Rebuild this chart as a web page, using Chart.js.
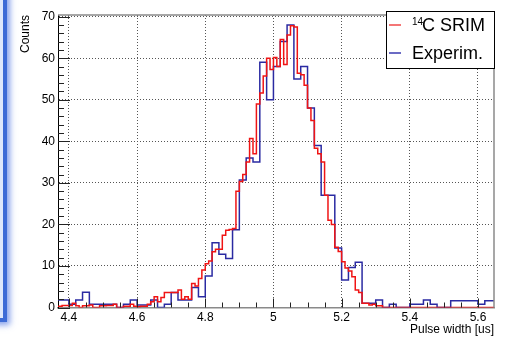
<!DOCTYPE html>
<html>
<head>
<meta charset="utf-8">
<script src="https://cdn.jsdelivr.net/npm/chart.js@4"></script>
<style>
    html, body { margin: 0; padding: 0; background: #fff; }
    #wrap { position: relative; width: 516px; height: 340px; overflow: hidden; }
    #panel {
        position: absolute; left: -20px; top: -20px; width: 27px; height: 342px;
        box-sizing: border-box; border: 4px solid #3d6bd6; background: #dfe8fb;
        box-shadow: 3px 3px 6px rgba(70, 110, 225, 0.65);
    }
    canvas { position: absolute; left: 0; top: 0; }
</style>
</head>
<body>
<div id="wrap">
    <div id="panel"></div>
    <canvas id="pulseChart" width="516" height="340"></canvas>
</div>
<script>
// axis ranges and tick labels
const xMin = 4.368;
const xMax = 5.647;
const yMin = 0;
const yMax = 70.4;
const xTicks = [4.4, 4.6, 4.8, 5.0, 5.2, 5.4, 5.6];
const xTickLabels = ['4.4', '4.6', '4.8', '5', '5.2', '5.4', '5.6'];
const yTicks = [0, 10, 20, 30, 40, 50, 60, 70];
const yTickLabels = ['0', '10', '20', '30', '40', '50', '60', '70'];

// 14C SRIM simulation, bins of 0.01 starting at 4.36
const srimStart = 4.36;
const srimBinWidth = 0.01;
const srimCounts = [
    0.3, 0.3, 0.5, 0.5, 0.5, 1.0, 0.4, 0, 0.4, 0.4,
    0.6, 0, 0, 0.4, 0.4, 0.5, 0.5, 0.8, 0, 0,
    0.3, 0.3, 0.8, 0.3, 0.2, 0.3, 0.3, 0.8, 1.4, 2.6,
    1.4, 2.4, 3.6, 3.6, 3.6, 3.6, 4.2, 2.0, 2.6, 2.0,
    5.8, 5.2, 7.0, 9.0, 10.5, 11.2, 13.4, 14, 14, 17.4,
    18.6, 18.8, 19, 28, 30.3, 32, 35, 40.7, 37, 49,
    51.6, 55.7, 60, 57.3, 60.2, 58, 64.5, 58.5, 65.6, 67.8,
    67.5, 56.4, 56, 53.5, 48, 45, 38.3, 37, 35, 27,
    21, 20, 14.5, 13.5, 11, 9.5, 8.8, 7.4, 4.2, 3.6,
    1, 1, 0.6, 0.8, 0.4, 0.4, 0, 0, 0, 0,
    0, 0, 0, 0, 0, 0, 0, 0, 0, 0,
    0, 0, 0, 0, 0, 0, 0, 0, 0, 0,
    0, 0, 0, 0, 0, 0, 0, 0, 0, 0
];

// experimental data, bins of 0.02 starting at 4.36
const expStart = 4.36;
const expBinWidth = 0.02;
const expCounts = [
    1.8, 1.8, 0.8, 1.8, 3.7, 0.8, 0.8, 0.8, 0.8, 0,
    0.8, 1.8, 0.6, 0.6, 1.8, 0, 0.8, 3.6, 1.8, 1.8,
    4.8, 2.6, 7.6, 15.6, 12.8, 11.8, 18.7, 30.7, 36, 35,
    59, 50, 58, 64, 68, 55, 58, 48, 39, 27,
    27, 14.3, 6.6, 9.6, 10.9, 1, 1, 1.8, 0, 0.8,
    0, 0, 0.8, 0.8, 1.8, 0.8, 0, 0, 1.6, 1.6,
    1.6, 1.6, 0.8, 1.6, 1.6
];

const seriesColors = ['#f01414', '#2a2aa2'];
const legendColors = ['#f04848', '#3a3ab0'];

// turn bin contents into step points (lower edges + closing upper edge)
function histPoints(start, width, counts) {
    const pts = counts.map((c, i) => ({ x: +(start + i * width).toFixed(3), y: c }));
    pts.push({ x: +(start + counts.length * width).toFixed(3), y: counts[counts.length - 1] });
    return pts;
}

const axisFont = { family: '"Liberation Sans", Arial, Helvetica, sans-serif', size: 12 };

// ROOT style ticks pointing into the frame, plus the frame itself
const rootFrame = {
    id: 'rootFrame',
    afterDatasetsDraw(chart) {
        const { ctx, chartArea: a, scales: { x, y } } = chart;
        ctx.save();
        ctx.strokeStyle = '#8a8a8a';
        ctx.lineWidth = 1.5;
        ctx.beginPath();
        ctx.moveTo(a.left, a.top);
        ctx.lineTo(a.right, a.top);
        ctx.lineTo(a.right, a.bottom);
        ctx.stroke();

        ctx.strokeStyle = '#222';
        ctx.lineWidth = 1;
        ctx.beginPath();
        for (let k = -1; k <= 26; k++) {
            const v = 4.4 + k * 0.05;
            if (v < xMin || v > xMax) continue;
            const px = Math.round(x.getPixelForValue(v)) + 0.5;
            const len = k % 4 === 0 ? 9 : 5;
            ctx.moveTo(px, a.bottom);
            ctx.lineTo(px, a.bottom - len);
        }
        for (let v = 0; v <= yMax; v += 2) {
            const py = Math.round(y.getPixelForValue(v)) + 0.5;
            const len = v % 10 === 0 ? 12 : 6;
            ctx.moveTo(a.left, py);
            ctx.lineTo(a.left + len, py);
        }
        ctx.stroke();
        ctx.restore();
    }
};

// legend box with the superscript in 14C
const rootLegend = {
    id: 'rootLegend',
    afterDraw(chart) {
        const { ctx } = chart;
        const bx = 386, by = 11, bw = 108, bh = 57;
        ctx.save();
        ctx.fillStyle = '#fff';
        ctx.fillRect(bx, by, bw, bh);
        ctx.strokeStyle = '#000';
        ctx.lineWidth = 1;
        ctx.strokeRect(bx + 0.5, by + 0.5, bw, bh);

        const rows = [25, 53];
        rows.forEach((ry, i) => {
            ctx.strokeStyle = legendColors[i];
            ctx.lineWidth = 1.5;
            ctx.beginPath();
            ctx.moveTo(389, ry);
            ctx.lineTo(401, ry);
            ctx.stroke();
        });

        ctx.fillStyle = '#000';
        ctx.textBaseline = 'alphabetic';
        ctx.font = '10px "Liberation Sans", Arial, sans-serif';
        ctx.fillText('14', 412, 25);
        ctx.font = '18px "Liberation Sans", Arial, sans-serif';
        ctx.fillText('C SRIM', 422, 31);
        ctx.fillText('Experim.', 412, 58.5);
        ctx.restore();
    }
};

const ctx = document.getElementById('pulseChart').getContext('2d');
new Chart(ctx, {
    type: 'line',
    data: {
        datasets: [
            {
                label: '14C SRIM',
                data: histPoints(srimStart, srimBinWidth, srimCounts),
                borderColor: seriesColors[0],
                borderWidth: 1.5,
                stepped: true,
                pointRadius: 0,
                fill: false
            },
            {
                label: 'Experim.',
                data: histPoints(expStart, expBinWidth, expCounts),
                borderColor: seriesColors[1],
                borderWidth: 1.5,
                stepped: true,
                pointRadius: 0,
                fill: false
            }
        ]
    },
    options: {
        responsive: false,
        animation: false,
        layout: { padding: { left: 0, right: 22, top: 15, bottom: 0 } },
        plugins: {
            legend: { display: false },
            tooltip: { enabled: false }
        },
        scales: {
            x: {
                type: 'linear',
                min: xMin,
                max: xMax,
                afterBuildTicks: scale => { scale.ticks = xTicks.map(v => ({ value: v })); },
                afterFit: scale => { scale.height = 32.5; },
                ticks: {
                    callback: (v, i) => xTickLabels[i],
                    font: axisFont,
                    color: '#000',
                    padding: 3,
                    maxRotation: 0,
                    autoSkip: false
                },
                grid: { color: '#555', lineWidth: 1, drawTicks: false },
                border: { display: true, color: '#8a8a8a', width: 1.5, dash: [1, 2] },
                title: {
                    display: true,
                    text: 'Pulse width [us]',
                    align: 'end',
                    color: '#000',
                    font: axisFont,
                    padding: { top: 0, bottom: 3 }
                }
            },
            y: {
                min: yMin,
                max: yMax,
                afterBuildTicks: scale => { scale.ticks = yTicks.map(v => ({ value: v })); },
                afterFit: scale => { scale.width = 58; },
                ticks: {
                    callback: (v, i) => yTickLabels[i],
                    font: axisFont,
                    color: '#000',
                    padding: 3
                },
                grid: { color: '#555', lineWidth: 1, drawTicks: false },
                border: { display: true, color: '#000', width: 1, dash: [1, 2] },
                title: {
                    display: true,
                    text: 'Counts',
                    align: 'end',
                    color: '#000',
                    font: axisFont,
                    padding: { top: 18, bottom: 0 }
                }
            }
        }
    },
    plugins: [rootFrame, rootLegend]
});
</script>
</body>
</html>
